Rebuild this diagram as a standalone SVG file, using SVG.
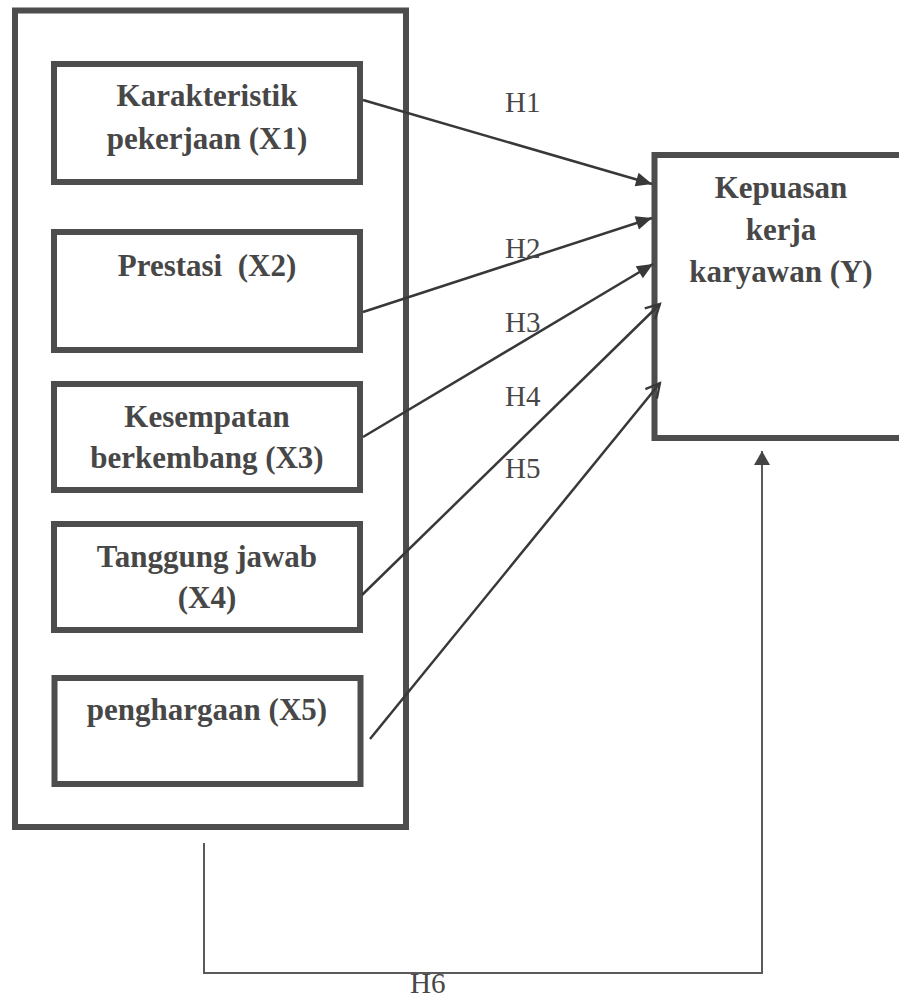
<svg xmlns="http://www.w3.org/2000/svg" width="899" height="998" viewBox="0 0 899 998">
<style>
.box{fill:none;stroke:#4d4d4d;stroke-width:6}
.nt{font-family:'Liberation Serif','Times New Roman',Tinos,'DejaVu Serif',serif;font-weight:bold;font-size:31px;fill:#474747;text-anchor:middle;white-space:pre}
.hl{font-family:'Liberation Serif','Times New Roman',Tinos,'DejaVu Serif',serif;font-size:29px;fill:#474747}
.ln{fill:none;stroke:#383838;stroke-width:2.5}
.fb{fill:none;stroke:#5a5a5a;stroke-width:2}
</style>
<defs>
<marker id="tri" markerUnits="userSpaceOnUse" markerWidth="17" markerHeight="14" refX="16" refY="7" orient="auto" overflow="visible">
<path d="M0,0 L16,7 L0,14 z" fill="#383838"/>
</marker>
<marker id="open" markerUnits="userSpaceOnUse" markerWidth="18" markerHeight="18" refX="16" refY="8" orient="auto" overflow="visible">
<path d="M2,0.5 L16,8 L2,15.5" fill="none" stroke="#383838" stroke-width="2.2"/>
</marker>
<marker id="tri2" markerUnits="userSpaceOnUse" markerWidth="15" markerHeight="16" refX="14" refY="8" orient="auto" overflow="visible">
<path d="M0,0 L14,8 L0,16 z" fill="#444"/>
</marker>
</defs>
<rect width="899" height="998" fill="#fff"/>
<g id="outer">
<rect class="box" x="15" y="10.5" width="391" height="816.5"/>
</g>
<g id="x1">
<rect class="box" x="54" y="64" width="306" height="118"/>
<text class="nt" x="207" y="106">Karakteristik</text>
<text class="nt" x="207" y="148.5">pekerjaan (X1)</text>
</g>
<g id="x2">
<rect class="box" x="54" y="232" width="306" height="118"/>
<text class="nt" x="207" y="276">Prestasi  (X2)</text>
</g>
<g id="x3">
<rect class="box" x="54" y="384" width="306" height="106"/>
<text class="nt" x="207" y="426.5">Kesempatan</text>
<text class="nt" x="207" y="468">berkembang (X3)</text>
</g>
<g id="x4">
<rect class="box" x="54" y="524" width="306" height="106"/>
<text class="nt" x="207" y="566.5">Tanggung jawab</text>
<text class="nt" x="207" y="608">(X4)</text>
</g>
<g id="x5">
<rect class="box" x="54.5" y="678" width="306" height="106"/>
<text class="nt" x="207" y="720">penghargaan (X5)</text>
</g>
<g id="y">
<rect class="box" x="654.5" y="155" width="260" height="283"/>
<text class="nt" x="781" y="198">Kepuasan</text>
<text class="nt" x="781" y="240">kerja</text>
<text class="nt" x="781" y="282">karyawan (Y)</text>
</g>
<g id="connectors">
<line class="ln" x1="363" y1="100" x2="652" y2="184" marker-end="url(#tri)"/>
<line class="ln" x1="363" y1="312" x2="652" y2="218" marker-end="url(#tri)"/>
<line class="ln" x1="363" y1="437" x2="653" y2="264" marker-end="url(#tri)"/>
<line class="ln" x1="362" y1="595" x2="660" y2="304" marker-end="url(#open)"/>
<line class="ln" x1="370" y1="739" x2="660" y2="383" marker-end="url(#open)"/>
<polyline class="fb" points="204,843 204,973 762,973 762,451" marker-end="url(#tri2)"/>
</g>
<g id="labels">
<text class="hl" x="505" y="112">H1</text>
<text class="hl" x="505" y="258">H2</text>
<text class="hl" x="505" y="332">H3</text>
<text class="hl" x="505" y="406">H4</text>
<text class="hl" x="505" y="478">H5</text>
<text class="hl" x="410" y="993">H6</text>
</g>
</svg>
